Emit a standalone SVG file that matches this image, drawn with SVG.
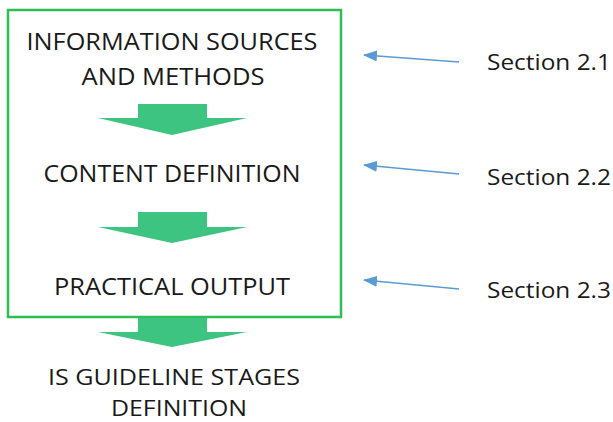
<svg xmlns="http://www.w3.org/2000/svg" width="613" height="422" viewBox="0 0 613 422">
<style>
.t{font-family:"Open Sans","Noto Sans",sans-serif;font-size:23px;fill:#1a1a1a;text-anchor:middle}
.s{font-family:"Open Sans","Noto Sans",sans-serif;font-size:22px;fill:#1a1a1a}
.ga{fill:#3dc480;stroke:none}
.ba{stroke:#5b9bd5;stroke-width:1.6;fill:none;marker-end:url(#ah)}
</style>
<defs>
<marker id="ah" viewBox="0 0 14 11" refX="13" refY="5.5" markerWidth="14" markerHeight="11" markerUnits="userSpaceOnUse" orient="auto">
<path d="M0,0 L14,5.5 L0,11 Z" fill="#5b9bd5"/>
</marker>
</defs>
<rect id="frame" x="8" y="10" width="333" height="307" fill="none" stroke="#2fbd55" stroke-width="2.5"/>
<g id="n1"><text class="t" x="172" y="50" textLength="291" lengthAdjust="spacingAndGlyphs">INFORMATION SOURCES</text><text class="t" x="173" y="85" textLength="183" lengthAdjust="spacingAndGlyphs">AND METHODS</text></g>
<g id="n2"><text class="t" x="172" y="182" textLength="257" lengthAdjust="spacingAndGlyphs">CONTENT DEFINITION</text></g>
<g id="n3"><text class="t" x="172" y="295" textLength="236" lengthAdjust="spacingAndGlyphs">PRACTICAL OUTPUT</text></g>
<g id="n4"><text class="t" x="174" y="385" style="font-size:22.5px" textLength="252" lengthAdjust="spacingAndGlyphs">IS GUIDELINE STAGES</text><text class="t" x="179" y="416" style="font-size:22.5px" textLength="136" lengthAdjust="spacingAndGlyphs">DEFINITION</text></g>
<g id="s1"><text class="s" x="487" y="70" textLength="124" lengthAdjust="spacingAndGlyphs">Section 2.1</text></g>
<g id="s2"><text class="s" x="487" y="185" textLength="124" lengthAdjust="spacingAndGlyphs">Section 2.2</text></g>
<g id="s3"><text class="s" x="487" y="298" textLength="124" lengthAdjust="spacingAndGlyphs">Section 2.3</text></g>
<g id="connectors">
<path class="ga" d="M138,104 H207 V118 H247 L172,135 L98,118 H138 Z"/>
<path class="ga" d="M138,212 H207 V227 H247 L172,243 L98,227 H138 Z"/>
<path class="ga" d="M138,318 H207 V332 H247 L172,347 L98,332 H138 Z"/>
<path class="ba" d="M459,62 L364,55"/>
<path class="ba" d="M459,174 L364,165"/>
<path class="ba" d="M459,289 L364,280"/>
</g>
</svg>
